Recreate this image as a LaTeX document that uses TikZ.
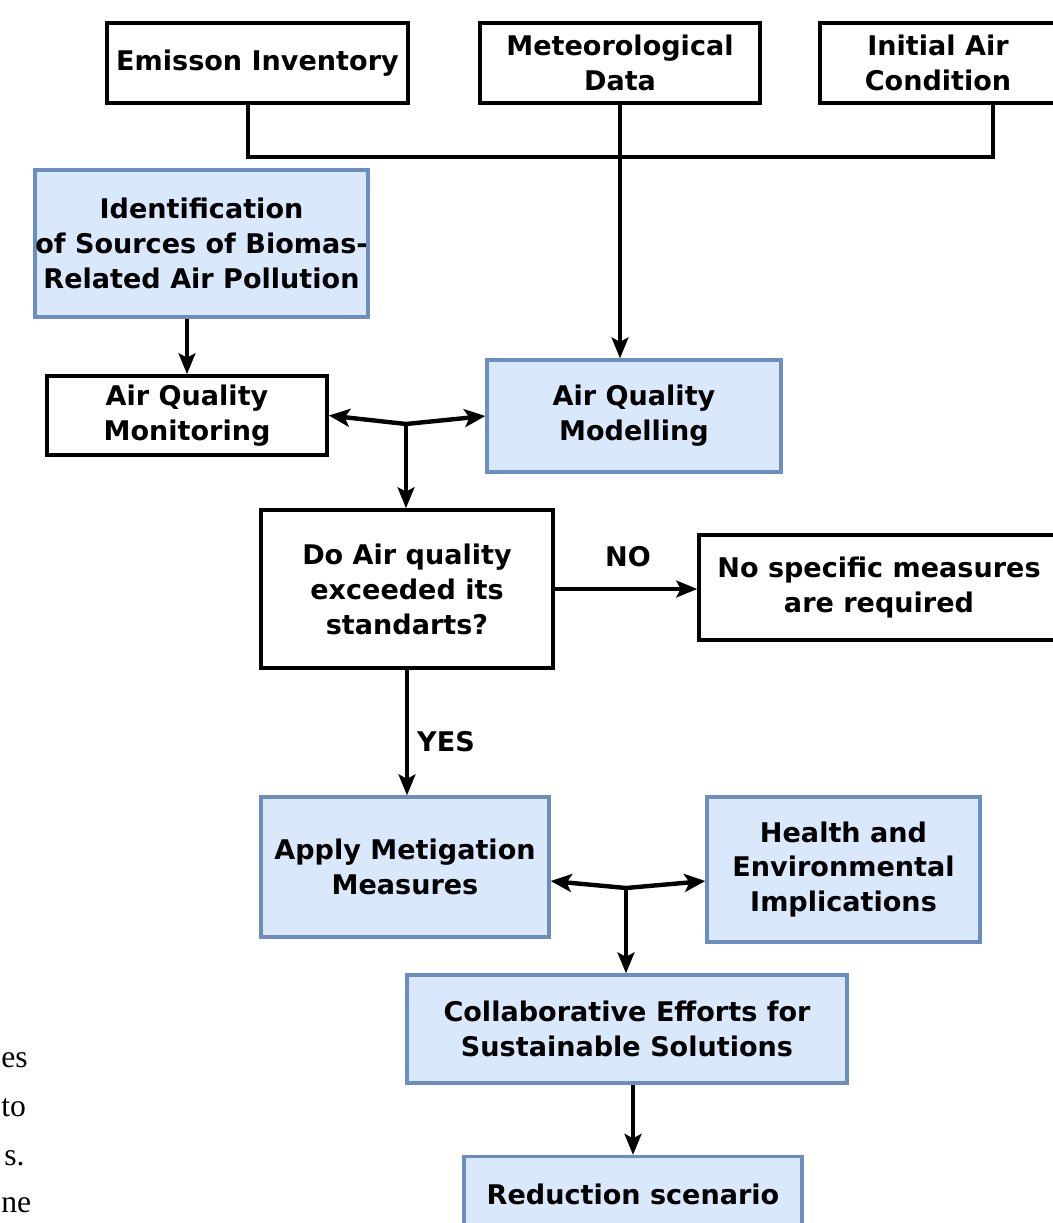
\documentclass[tikz,border=0pt]{standalone}
\usepackage{fontspec}
\newfontfamily\dvfont{DejaVu Sans}
\newfontfamily\serfont{Liberation Serif}
\usetikzlibrary{arrows.meta}
\definecolor{bfill}{HTML}{DAE8FC}
\definecolor{bdraw}{HTML}{6C8EBF}
\tikzset{
  base/.style={rectangle, inner sep=0pt, align=center,
    font=\dvfont\bfseries\fontsize{15.4pt}{19.9pt}\selectfont},
  wbox/.style={base, draw=black, fill=white, line width=2.1pt},
  bbox/.style={base, draw=bdraw, fill=bfill, line width=1.9pt},
  conn/.style={line width=1.8pt, draw=black},
  arr/.style={conn, -{Stealth[length=0.42cm,width=0.34cm,inset=0.09cm]}},
  dbl/.style={line width=2.5pt, draw=black, -{Stealth[length=0.42cm,width=0.36cm,inset=0.1cm]}},
  lbl/.style={font=\dvfont\bfseries\fontsize{15.4pt}{19.9pt}\selectfont, inner sep=0pt},
  frag/.style={font=\serfont\fontsize{18pt}{22pt}\selectfont, inner sep=0pt, anchor=base west}
}
\begin{document}
\begin{tikzpicture}[x=0.02cm,y=-0.02cm]
\useasboundingbox (0,0) rectangle (1053,1223);
\fill[white] (0,0) rectangle (1053,1223);
\begin{scope}
\clip (0,0) rectangle (1053,1223);
% boxes
\node[wbox, minimum width=6.02cm, minimum height=1.6cm] (emis) at (257.5,63) {Emisson Inventory};
\node[wbox, minimum width=5.6cm, minimum height=1.6cm] (met) at (620,63) {Meteorological\\Data};
\node[wbox, minimum width=4.72cm, minimum height=1.6cm] (init) at (938,63) {Initial Air\\Condition};
\node[bbox, minimum width=6.66cm, minimum height=2.94cm] (ident) at (201.5,243.5) {Identification\\of Sources of Biomas-\\Related Air Pollution};
\node[wbox, minimum width=5.6cm, minimum height=1.58cm] (mon) at (187,415.5) {Air Quality\\Monitoring};
\node[bbox, minimum width=5.88cm, minimum height=2.24cm] (mod) at (634,416) {Air Quality\\Modelling};
\node[wbox, minimum width=5.84cm, minimum height=3.16cm] (dec) at (407,589) {Do Air quality\\exceeded its\\standarts?};
\node[wbox, minimum width=7.2cm, minimum height=2.1cm] (nospec) at (879,587.5) {No specific measures\\are required};
\node[bbox, minimum width=5.76cm, minimum height=2.8cm] (apply) at (405,867) {Apply Metigation\\Measures};
\node[bbox, minimum width=5.46cm, minimum height=2.9cm] (health) at (843.5,869.5) {Health and\\Environmental\\Implications};
\node[bbox, minimum width=8.8cm, minimum height=2.16cm] (collab) at (627,1029) {Collaborative Efforts for\\Sustainable Solutions};
\node[bbox, minimum width=6.76cm, minimum height=1.5cm] (reduc) at (633,1194) {Reduction scenario};
% bus at top
\coordinate (busL) at (248,157);
\coordinate (busR) at (993,157);
\draw[conn] (emis.south -| busL) -- (busL) -- (busR) -- (init.south -| busR);
\draw[arr] (met.south) -- (met.south |- mod.north);
% identification to monitoring
\draw[arr] (mon.north |- ident.south) -- (mon.north);
% junction 1
\coordinate (j1) at (406,424);
\draw[dbl] (j1) -- (mon.east);
\draw[dbl] (j1) -- (mod.west);
\draw[arr] (j1) -- (j1 |- dec.north);
% decision
\draw[arr] (dec.east) -- (nospec.west |- dec.east);
\node[lbl] (no) at (628,557) {NO};
\draw[arr] (dec.south) -- (dec.south |- apply.north);
\node[lbl] (yes) at (446,742) {YES};
% junction 2
\coordinate (j2) at (626,888);
\coordinate (tipy) at (0,881);
\draw[dbl] (j2) -- (apply.east |- tipy);
\draw[dbl] (j2) -- (health.west |- tipy);
\draw[arr] (j2) -- (j2 |- collab.north);
\draw[arr] (reduc.north |- collab.south) -- (reduc.north);
% page text fragments at the left edge
\node[frag] (f1) at (1,1067) {es};
\node[frag] (f2) at (1,1116) {to};
\node[frag] (f3) at (4,1165) {s.};
\node[frag] (f4) at (1,1212) {ne};
\end{scope}
\end{tikzpicture}
\end{document}
